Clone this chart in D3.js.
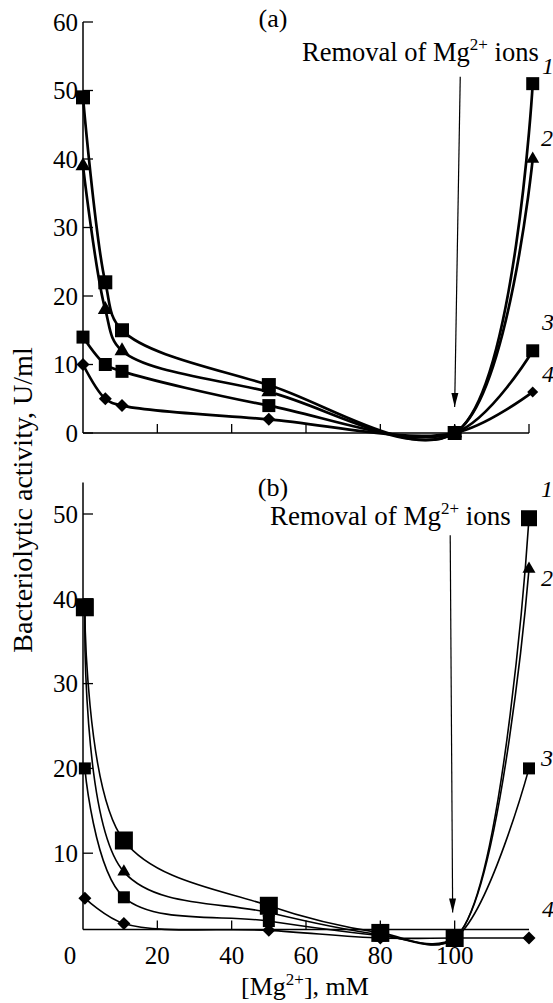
<!DOCTYPE html>
<html><head><meta charset="utf-8">
<script src="https://cdn.jsdelivr.net/npm/d3@7"></script>
<style>html,body{margin:0;padding:0;background:#fff;}svg{display:block;}</style>
</head><body>
<svg id="c" width="553" height="1003"></svg>
<script>
// ---- data ----
const xA = [0, 6, 10.5, 50, 100, 121];          // [Mg2+], mM, panel (a)
const a1 = [49, 22, 15, 7, 0, 51];
const a2 = [39, 18, 12, 6, 0, 40];
const a3 = [14, 10, 9, 4, 0, 12];
const a4 = [10, 5, 4, 2, 0, 6];
const xB = [0.5, 11, 50, 80, 100, 120];         // panel (b)
const b1 = [39, 11.5, 3.8, 0.6, 0, 49.5];
const b2 = [38.5, 7.8, 3, 0.4, 0, 43.5];
const b3 = [20, 4.8, 2, 0.3, 0, 20];
const b4 = [4.7, 1.7, 0.9, 0, 0, 0];
const seriesLabels = ["1", "2", "3", "4"];
const yTicksA = [0, 10, 20, 30, 40, 50, 60];
const yTicksB = [10, 20, 30, 40, 50];
const xTicksA = [20, 40, 60, 80, 100, 120];
const xTicksB = [0, 20, 40, 60, 80, 100];

const FONT = "'Liberation Serif','Times New Roman',serif";
const svg = d3.select("#c");
const x = d3.scaleLinear().domain([0, 120]).range([83, 529]);
const yA = d3.scaleLinear().domain([0, 60]).range([433, 22]);
const yB = d3.scaleLinear().domain([0, 50]).range([938, 514]);

function sym(type, s) {
  if (type === "square") return d3.symbol(d3.symbolSquare, s * s)();
  if (type === "diamond") return d3.symbol(d3.symbolSquare, (s / Math.SQRT2) ** 2)();
  if (type === "triangle") return d3.symbol(d3.symbolTriangle, s * s * Math.sqrt(3) / 4)();
}

function panel(y, xs, sets, opts) {
  const g = svg.append("g");
  g.append("line").attr("x1", x(0)).attr("x2", x(0)).attr("y1", y(opts.yTop)).attr("y2", y(opts.xAxisAt))
    .attr("stroke", "#000").attr("stroke-width", 1.5);
  g.append("line").attr("x1", x(0)).attr("x2", x(120)).attr("y1", y(opts.xAxisAt)).attr("y2", y(opts.xAxisAt))
    .attr("stroke", "#000").attr("stroke-width", 1.5);
  opts.yTicks.forEach(t => {
    g.append("line").attr("x1", x(0)).attr("x2", x(0) + 10).attr("y1", y(t)).attr("y2", y(t))
      .attr("stroke", "#000").attr("stroke-width", 1.3);
    g.append("text").attr("x", x(0) - 5).attr("y", y(t)).attr("dy", "0.35em")
      .attr("text-anchor", "end").attr("font-family", FONT).attr("font-size", 25).text(t);
  });
  opts.xTicks.forEach(t => {
    if (t > 0) g.append("line").attr("x1", x(t)).attr("x2", x(t)).attr("y1", y(opts.xAxisAt)).attr("y2", y(opts.xAxisAt) - 9)
      .attr("stroke", "#000").attr("stroke-width", 1.3);
    if (opts.xLabels) g.append("text").attr("x", x(t) - (t === 0 ? 13 : 0)).attr("y", y(opts.xAxisAt) + 34)
      .attr("text-anchor", "middle").attr("font-family", FONT).attr("font-size", 25).text(t);
  });
  const line = d3.line().x(d => x(d[0])).y(d => y(d[1])).curve(d3.curveCatmullRom.alpha(0.5));
  sets.forEach(s => {
    g.append("path").datum(xs.map((v, i) => [v, s.v[i]])).attr("d", line)
      .attr("fill", "none").attr("stroke", "#000").attr("stroke-width", opts.lw);
  });
  for (let k = sets.length - 1; k >= 0; k--) {
    const s = sets[k];
    xs.forEach((v, i) => {
      const sz = (i === xs.length - 1 && s.endSize) ? s.endSize : s.size;
      g.append("path").attr("d", sym(s.shape, sz))
        .attr("transform", `translate(${x(v)},${y(s.v[i])})` + (s.shape === "diamond" ? " rotate(45)" : ""))
        .attr("fill", "#000");
    });
  }
}

panel(yA, xA, [
  {v: a1, shape: "square", size: 14, endSize: 13},
  {v: a2, shape: "triangle", size: 15, endSize: 13},
  {v: a3, shape: "square", size: 13},
  {v: a4, shape: "diamond", size: 13, endSize: 11}
], {yTop: 60, xAxisAt: 0, yTicks: yTicksA, xTicks: xTicksA, xLabels: false, lw: 2.7});

panel(yB, xB, [
  {v: b1, shape: "square", size: 18, endSize: 16},
  {v: b2, shape: "triangle", size: 13},
  {v: b3, shape: "square", size: 12},
  {v: b4, shape: "diamond", size: 13}
], {yTop: 53.7, xAxisAt: 1, yTicks: yTicksB, xTicks: xTicksB, xLabels: true, lw: 1.6});

// annotations
function removal(tx, ty, fs) {
  const t = svg.append("text").attr("x", tx).attr("y", ty).attr("font-family", FONT).attr("font-size", fs);
  t.append("tspan").text("Removal of Mg");
  t.append("tspan").attr("dy", -11).attr("font-size", 17).text("2+");
  t.append("tspan").attr("dy", 11).text(" ions");
}
removal(302, 61, 26.5);
removal(270, 525, 27);
svg.append("text").attr("x", 273).attr("y", 27).attr("text-anchor", "middle").attr("font-family", FONT).attr("font-size", 26).text("(a)");
svg.append("text").attr("x", 273).attr("y", 496).attr("text-anchor", "middle").attr("font-family", FONT).attr("font-size", 26).text("(b)");

function arrow(x1, y1, x2, y2) {
  svg.append("line").attr("x1", x1).attr("y1", y1).attr("x2", x2).attr("y2", y2).attr("stroke", "#000").attr("stroke-width", 1.2);
  const ang = Math.atan2(y2 - y1, x2 - x1);
  const L = 14, W = 3.5;
  const bx = x2 - L * Math.cos(ang), by = y2 - L * Math.sin(ang);
  const px = -Math.sin(ang) * W, py = Math.cos(ang) * W;
  svg.append("path").attr("d", `M${x2},${y2}L${bx + px},${by + py}L${bx - px},${by - py}Z`).attr("fill", "#000");
}
arrow(x(101.5), yA(52), x(100), yA(3.8));
arrow(x(98.8), yB(47.5), x(100) - 2, yB(3));

// series labels
const labA = [[548, 74], [547, 146], [548, 330], [548, 382]];
const labB = [[547, 497], [547, 586], [547, 766], [548, 917]];
seriesLabels.forEach((s, i) => {
  svg.append("text").attr("x", labA[i][0]).attr("y", labA[i][1]).attr("text-anchor", "middle")
    .attr("font-family", FONT).attr("font-style", "italic").attr("font-size", 24).text(s);
  svg.append("text").attr("x", labB[i][0]).attr("y", labB[i][1]).attr("text-anchor", "middle")
    .attr("font-family", FONT).attr("font-style", "italic").attr("font-size", 24).text(s);
});

// axis titles
svg.append("text").attr("transform", "translate(32,500) rotate(-90)").attr("text-anchor", "middle")
  .attr("font-family", FONT).attr("font-size", 28).text("Bacteriolytic activity, U/ml");
const xt = svg.append("text").attr("x", 305).attr("y", 995).attr("text-anchor", "middle")
  .attr("font-family", FONT).attr("font-size", 26);
xt.append("tspan").text("[Mg");
xt.append("tspan").attr("dy", -10).attr("font-size", 17).text("2+");
xt.append("tspan").attr("dy", 10).text("], mM");
</script>
</body></html>
